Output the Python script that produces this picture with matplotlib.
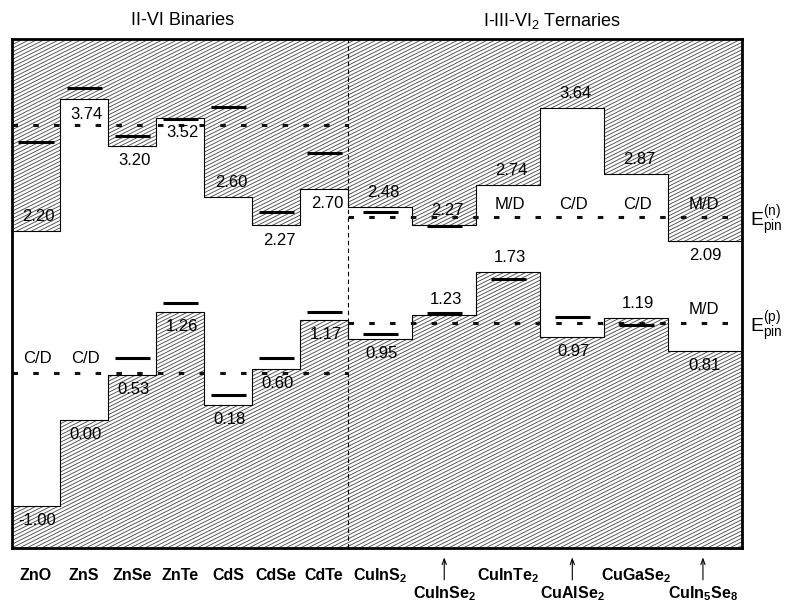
import numpy as np
import matplotlib
matplotlib.use("Agg")
import matplotlib.pyplot as plt
from matplotlib.collections import LineCollection

plt.rcParams['font.family'] = ['Liberation Sans', 'DejaVu Sans']
plt.rcParams['mathtext.fontset'] = 'custom'
plt.rcParams['mathtext.rm'] = 'Liberation Sans'
plt.rcParams['mathtext.it'] = 'Liberation Sans:italic'
plt.rcParams['mathtext.bf'] = 'Liberation Sans:bold'

# compounds, left to right
compounds = ['ZnO', 'ZnS', 'ZnSe', 'ZnTe', 'CdS', 'CdSe', 'CdTe',
             'CuInS2', 'CuInSe2', 'CuInTe2', 'CuAlSe2', 'CuGaSe2', 'CuIn5Se8']
tick_labels = ['ZnO', 'ZnS', 'ZnSe', 'ZnTe', 'CdS', 'CdSe', 'CdTe',
               r'CuInS$_\mathbf{2}$', r'CuInSe$_\mathbf{2}$', r'CuInTe$_\mathbf{2}$',
               r'CuAlSe$_\mathbf{2}$', r'CuGaSe$_\mathbf{2}$',
               r'CuIn$_\mathbf{5}$Se$_\mathbf{8}$']
# band edges (eV)
cbm = [2.20, 3.74, 3.20, 3.52, 2.60, 2.27, 2.70, 2.48, 2.27, 2.74, 3.64, 2.87, 2.09]
vbm = [-1.00, 0.00, 0.53, 1.26, 0.18, 0.60, 1.17, 0.95, 1.23, 1.73, 0.97, 1.19, 0.81]
# pinning levels of each compound (short bars)
pin_n = [3.24, 3.87, 3.31, 3.51, 3.65, 2.43, 3.12, 2.43, 2.26, None, None, None, None]
pin_p = [None, None, 0.72, 1.37, 0.29, 0.72, 1.26, 1.00, 1.25, 1.65, 1.20, 1.11, None]
mech_n = ['', '', '', '', '', '', '', '', '', 'M/D', 'C/D', 'C/D', 'M/D']
mech_p = ['C/D', 'C/D', '', '', '', '', '', '', '', '', '', '', 'M/D']
# average pinning energies: binaries, ternaries
epin_n = [3.44, 2.37]
epin_p = [0.55, 1.13]
groups = ['II-VI Binaries', r'I-III-VI$_2$ Ternaries']

# label side: +1 above the step, -1 below
cbm_side = [1, -1, -1, -1, 1, -1, -1, 1, 1, 1, 1, 1, -1]
vbm_side = [-1, -1, -1, -1, -1, -1, -1, -1, 1, 1, -1, 1, -1]

# column layout
widths = [1.0] * 7 + [4 / 3.] * 6
edges = np.concatenate([[0], np.cumsum(widths)])
xmax = 15.2
edges[-1] = xmax
centers = (edges[:-1] + edges[1:]) / 2
centers[-1] = edges[-2] + 0.72
ymin, ymax = -1.494, 4.446

fig = plt.figure(figsize=(7.85, 6.04), dpi=100)
ax = fig.add_axes([12 / 785, 56 / 604, 730 / 785, 509 / 604])
ax.set_xlim(0, xmax)
ax.set_ylim(ymin, ymax)
ax.set_xticks([])
ax.set_yticks([])
for s in ax.spines.values():
    s.set_linewidth(2)
    s.set_zorder(6)

cb_ext = cbm + [cbm[-1]]
vb_ext = vbm + [vbm[-1]]
up = ax.fill_between(edges, cb_ext, ymax + 1, step='post', facecolor='none',
                     linewidth=0, zorder=1)
lo = ax.fill_between(edges, ymin - 1, vb_ext, step='post', facecolor='none',
                     linewidth=0, zorder=1)

# shallow diagonal hatching, clipped to the two regions
slope = 0.5 * 48.03 / 85.7
step_c = 3.7 / 85.7
cs = np.arange(ymin - slope * xmax - 0.1, ymax + 0.1, step_c)
segs = [[(0, c), (xmax, c + slope * xmax)] for c in cs]
for poly in (up, lo):
    lc = LineCollection(segs, colors='#505050', linewidths=0.65, zorder=1)
    ax.add_collection(lc)
    lc.set_clip_path(poly.get_paths()[0], ax.transData)

ax.step(edges, cb_ext, where='post', color='k', lw=0.8, zorder=2)
ax.step(edges, vb_ext, where='post', color='k', lw=0.8, zorder=2)

# separator
ax.axvline(7, color='k', lw=0.8, ls=(0, (4, 3)), zorder=2)

# average pinning levels
for (x0, x1), en, ep in zip([(0, 7), (7, xmax)], epin_n, epin_p):
    for e in (en, ep):
        ax.plot([x0, x1], [e, e], color='#111111', lw=2.2, dashes=(1.8, 5), zorder=3)

# bars
bw = 0.73
for xc, pn, pp in zip(centers, pin_n, pin_p):
    for p in (pn, pp):
        if p is not None:
            ax.plot([xc - bw / 2, xc + bw / 2], [p, p], color='k', lw=2.2,
                    solid_capstyle='butt', zorder=4)

# value labels
for xc, v, sd in zip(centers, cbm, cbm_side):
    ax.annotate(f'{v:.2f}', (xc, v), xytext=(2, 10.5 * sd), textcoords='offset points',
                ha='center', va='center', fontsize=12, zorder=5)
for xc, v, sd in zip(centers, vbm, vbm_side):
    ax.annotate(f'{v:.2f}', (xc, v), xytext=(1, 10.5 * sd), textcoords='offset points',
                ha='center', va='center', fontsize=12, zorder=5)

# mechanism labels
for i, (xc, mn, mp) in enumerate(zip(centers, mech_n, mech_p)):
    k = 0 if i < 7 else 1
    if mn:
        ax.annotate(mn, (xc, epin_n[k]), xytext=(1, 9), textcoords='offset points',
                    ha='center', va='center', fontsize=12, zorder=5)
    if mp:
        ax.annotate(mp, (xc, epin_p[k]), xytext=(1, 10), textcoords='offset points',
                    ha='center', va='center', fontsize=12, zorder=5)

# E_pin labels
ax.text(15.36, epin_n[1] - 0.04, r'E$^{\mathrm{(n)}}_{\mathrm{pin}}$', fontsize=14,
        ha='left', va='center')
ax.text(15.36, epin_p[1] - 0.04, r'E$^{\mathrm{(p)}}_{\mathrm{pin}}$', fontsize=14,
        ha='left', va='center')

# group titles
tr = ax.get_xaxis_transform()
ax.text(3.55, 1.036, groups[0], transform=tr, ha='center', va='center',
        fontsize=13, family='Liberation Sans')
ax.text(11.25, 1.036, groups[1], transform=tr, ha='center', va='center',
        fontsize=13, family='Liberation Sans')

# compound names
low = [8, 10, 12]
for i, (xc, lab) in enumerate(zip(centers, tick_labels)):
    if i in low:
        ax.text(xc, -0.090, lab, transform=tr, ha='center', va='center',
                fontsize=11.5, fontweight='bold')
        ax.annotate('', xy=(xc, -0.013), xytext=(xc, -0.068), xycoords=tr,
                    textcoords=tr,
                    arrowprops=dict(arrowstyle='->,head_length=0.4,head_width=0.15',
                                    lw=0.8, color='k'))
    else:
        ax.text(xc, -0.055, lab, transform=tr, ha='center', va='center',
                fontsize=11.5, fontweight='bold')

fig.savefig('out.png', dpi=100)
